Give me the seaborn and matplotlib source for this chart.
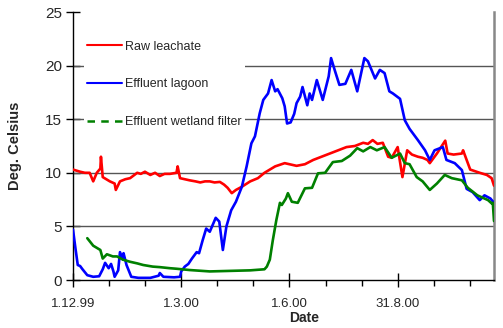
import matplotlib
matplotlib.use("Agg")
import matplotlib.pyplot as plt
import seaborn as sns
import pandas as pd
from matplotlib.lines import Line2D
from matplotlib.ticker import MultipleLocator, FixedLocator

# ---- data (days since 1.12.99, deg C) ----
raw_days = [0, 3, 6, 10, 14, 17, 20, 23, 23.5, 25, 28, 31, 35, 36, 39.5, 44, 48, 54, 57, 60.5, 65, 69,
            73, 77, 81.5, 87, 88, 90, 94, 98, 103, 107, 111, 115, 119, 123.5, 127, 130, 133.5, 137,
            142, 149, 155.5, 161, 170, 178, 188, 195, 202, 209, 216, 223, 230, 237, 244, 248, 252,
            256, 260.5, 265, 268, 273, 277, 281, 285, 290, 294, 298, 300, 306, 313, 315, 320, 327,
            328, 334, 342, 348, 352, 354]
raw_temp = [10.3, 10.2, 10.1, 10.0, 10.0, 9.2, 10.0, 10.4, 11.5, 9.6, 9.4, 9.2, 9.0, 8.4, 9.2, 9.4, 9.5,
            10.0, 9.9, 10.1, 9.8, 10.0, 9.7, 9.9, 9.9, 10.0, 10.6, 9.5, 9.4, 9.3, 9.2, 9.1, 9.2, 9.2,
            9.1, 9.15, 8.9, 8.6, 8.1, 8.4, 8.7, 9.2, 9.5, 10.0, 10.6, 10.9, 10.65, 10.8, 11.2, 11.5,
            11.8, 12.1, 12.4, 12.5, 12.8, 12.7, 13.05, 12.7, 12.8, 11.5, 11.4, 12.4, 9.6, 12.1, 11.7,
            11.5, 11.4, 11.2, 10.9, 11.8, 13.0, 11.8, 11.7, 11.8, 12.1, 10.3, 10.0, 9.8, 9.5, 8.8]

lagoon_days = [0, 2, 4, 6, 8, 12, 17, 22, 25, 27, 30, 32, 34, 35, 38, 39.5, 42, 42.5, 45, 49, 55, 65,
               72, 73, 76, 85, 90, 91, 94, 97, 100, 104, 106, 109, 112, 115, 120, 123, 126, 129, 133,
               137, 142, 146, 150, 153, 157, 160, 164, 167, 170, 172, 176, 178, 180, 183, 186, 188, 191,
               193, 197, 199, 201, 205, 210, 215, 217, 220, 224, 229, 234, 239, 245, 248, 254, 258, 262,
               266, 269, 275, 279, 283, 290, 296, 300, 304, 311, 314, 321, 327, 331, 336, 342, 346,
               351, 354]
lagoon_temp = [4.7, 3.0, 1.4, 1.3, 1.0, 0.45, 0.3, 0.35, 1.0, 1.6, 1.1, 1.5, 0.8, 0.3, 0.9, 2.6, 1.9,
               2.5, 1.4, 0.3, 0.2, 0.2, 0.4, 0.65, 0.3, 0.25, 0.3, 0.8, 1.25, 1.5, 2.0, 2.6, 2.5, 3.7,
               4.8, 4.5, 5.8, 5.45, 2.8, 5.0, 6.5, 7.3, 8.7, 10.6, 12.75, 13.4, 15.55, 16.8, 17.4,
               18.65, 17.6, 17.8, 16.95, 16.2, 14.6, 14.7, 15.5, 16.5, 17.1, 18.0, 16.3, 17.4, 16.8,
               18.65, 16.8, 19.0, 20.7, 19.6, 18.2, 18.3, 19.6, 17.6, 20.7, 20.4, 18.8, 19.6, 19.3,
               17.6, 17.4, 16.9, 14.9, 14.1, 13.05, 12.1, 11.2, 12.1, 12.4, 11.2, 10.9, 10.25, 8.5,
               8.2, 7.45, 7.9, 7.6, 7.2]

wetland_days = [12, 17, 20, 23, 25, 28.5, 33.5, 37, 42, 48, 54, 59, 67, 73, 81.5, 87, 98, 115, 132, 149,
                161, 163, 165.5, 168, 171, 174, 175.6, 179, 180.7, 184, 189, 195, 201, 206, 212, 218.5,
                226, 233, 239, 244, 250, 255.5, 262, 268, 275, 279, 283, 289, 294, 300, 306, 312.6,
                318.5, 327, 332, 340, 349, 352, 353, 354]
wetland_temp = [3.9, 3.2, 3.0, 2.8, 2.0, 2.4, 2.2, 2.2, 1.9, 1.7, 1.55, 1.4, 1.25, 1.2, 1.1, 1.05, 0.93,
                0.8, 0.85, 0.9, 1.0, 1.25, 1.9, 3.7, 5.6, 7.2, 7.0, 7.6, 8.1, 7.3, 7.2, 8.55, 8.6, 9.95,
                10.0, 11.0, 11.1, 11.6, 12.3, 12.0, 12.4, 12.1, 12.4, 11.4, 11.8, 10.9, 10.8, 9.6, 9.2,
                8.4, 9.0, 9.8, 9.5, 9.3, 8.6, 7.9, 7.45, 7.15, 7.2, 5.5]

series_names = ["Raw leachate", "Effluent lagoon", "Effluent wetland filter"]
tick_days = [0, 91, 182, 273]
tick_labels = ["1.12.99", "1.3.00", "1.6.00", "31.8.00"]
y_ticks = [0, 5, 10, 15, 20, 25]

frames = []
for name, d, t in zip(series_names, [raw_days, lagoon_days, wetland_days],
                      [raw_temp, lagoon_temp, wetland_temp]):
    frames.append(pd.DataFrame({"day": d, "temp": t, "series": name}))
df = pd.concat(frames, ignore_index=True)

sns.set_style("white")
plt.rcParams["font.family"] = ["Liberation Sans", "DejaVu Sans"]

colors = {"Raw leachate": "#ff0000", "Effluent lagoon": "#0000ff",
          "Effluent wetland filter": "#008000"}

fig = plt.figure(figsize=(5.03, 3.28), dpi=100)
ax = fig.add_axes([73 / 503, 1 - 280 / 328, (494 - 73) / 503, 268 / 328])

sns.lineplot(data=df, x="day", y="temp", hue="series", palette=colors, estimator=None,
             sort=False, linewidth=1.9, ax=ax, legend=False, zorder=3)

ax.set_xlim(0, 354)
ax.set_ylim(0, 25)
ax.set_yticks(y_ticks)
ax.xaxis.set_major_locator(FixedLocator(tick_days))
ax.set_xticklabels(tick_labels)
ax.xaxis.set_minor_locator(MultipleLocator(91 / 3))

for y in y_ticks[1:-1]:
    ax.axhline(y, color="#555555", lw=1.0, zorder=1)

ax.spines["top"].set_visible(False)
ax.spines["left"].set_color("black")
ax.spines["bottom"].set_color("black")
ax.spines["right"].set_color("#888888")
ax.spines["right"].set_linewidth(1.8)
ax.spines["left"].set_linewidth(1.0)
ax.spines["bottom"].set_linewidth(1.0)

ax.tick_params(axis="y", which="major", direction="inout", length=10, width=1, color="black",
               labelsize=11, pad=3, left=True)
ax.tick_params(axis="x", which="major", direction="inout", length=10, width=1, color="black",
               labelsize=9.5, pad=8, bottom=True)
ax.tick_params(axis="x", which="minor", direction="out", length=4, width=1, color="black",
               bottom=True)

ax.set_xlabel("Date", fontsize=10, fontweight="bold")
ax.set_ylabel("Deg. Celsius", fontsize=10.5, fontweight="bold")
ax.xaxis.set_label_coords(0.55, -0.115)
ax.yaxis.set_label_coords(-0.12, 0.5)

handles = [Line2D([], [], color=colors[series_names[0]], lw=1.5),
           Line2D([], [], color=colors[series_names[1]], lw=1.5),
           Line2D([], [], color=colors[series_names[2]], lw=1.8, ls=(0, (3, 2.5)))]
leg = ax.legend(handles, series_names, loc="upper left", bbox_to_anchor=(0.025, 0.907),
                frameon=True, facecolor="white", edgecolor="none", framealpha=1,
                fontsize=9, handlelength=2.75, handletextpad=0.25, labelspacing=2.05,
                borderpad=0.3, borderaxespad=0)
leg.set_zorder(2)

fig.savefig("out.png", dpi=100)
